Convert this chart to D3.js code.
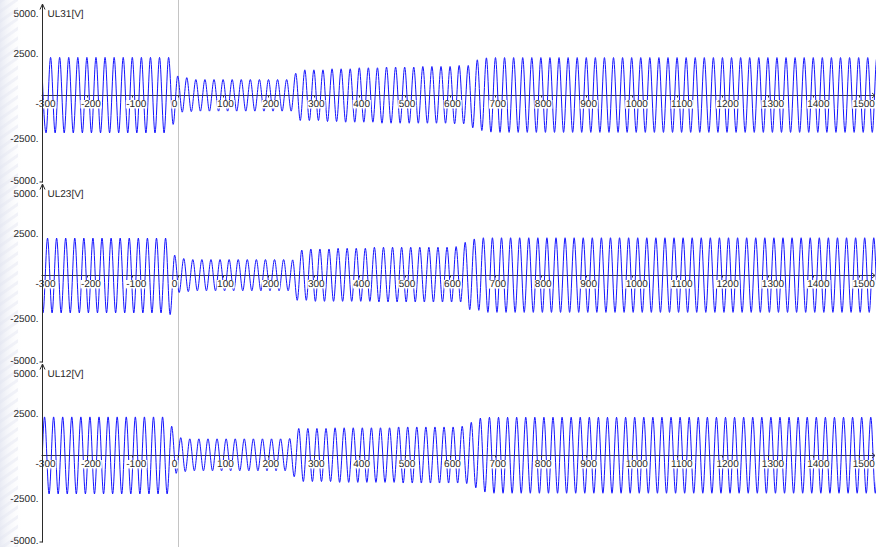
<!DOCTYPE html>
<html>
<head>
<meta charset="utf-8">
<script src="https://cdn.jsdelivr.net/npm/d3@7/dist/d3.min.js"></script>
<style>
  html, body { margin: 0; padding: 0; background: #ffffff; }
  svg { display: block; }
  text {
    font-family: "Liberation Sans", Arial, sans-serif; font-size: 10px; fill: #262626;
    -webkit-font-smoothing: antialiased; text-rendering: geometricPrecision;
  }
</style>
</head>
<body>
<svg id="chart" width="876" height="547"></svg>
<script>
// Line-voltage recordings around a fault at t = 0 ms (50 Hz system).
// Each channel is stored as runs of cycles: [cycles, positive peak (V), negative peak (V)].
const channelNames = ["UL31[V]", "UL23[V]", "UL12[V]"];

// time (ms) of the first positive peak of each channel
const firstPeakTimes = [-300, -306.7, -313.3];

const ul31Peaks = [
  [14, 2240, -2200], [1, 2240, -1700], [1, 1150, -980], [1, 1050, -950],
  [11, 940, -920], [1, 1310, -1470], [2, 1510, -1470], [1, 1510, -1530],
  [1, 1570, -1530], [2, 1570, -1570], [2, 1630, -1570], [1, 1630, -1630],
  [4, 1670, -1630], [3, 1705, -1630], [1, 1705, -1665], [1, 1765, -1665],
  [1, 1765, -1900], [1, 2100, -2060], [1, 2215, -2155], [43, 2230, -2170]
];

const ul23Peaks = [
  [14, 2200, -2200], [1, 2200, -2300], [1, 1200, -1000], [1, 1000, -950],
  [11, 940, -900], [1, 920, -1460], [1, 1500, -1460], [3, 1560, -1520],
  [4, 1600, -1520], [9, 1660, -1560], [1, 1700, -1560], [1, 1950, -2010],
  [1, 2150, -2050], [45, 2220, -2170]
];

const ul12Peaks = [
  [15, 2270, -2260], [1, 1720, -1050], [1, 1050, -950], [11, 980, -900],
  [1, 1000, -1250], [4, 1590, -1530], [7, 1630, -1580], [7, 1680, -1620],
  [1, 1720, -1650], [1, 1950, -1900], [1, 2200, -2150], [44, 2250, -2220]
];

const channelPeaks = [ul31Peaks, ul23Peaks, ul12Peaks];

const xTickValues = [-300, -200, -100, 0, 100, 200, 300, 400, 500, 600, 700,
                     800, 900, 1000, 1100, 1200, 1300, 1400, 1500];
const yTickValues = [5000, 2500, -2500, -5000];

const periodMs = 20;
const timeDomain = [-300, 1536];
const voltDomain = [-5000, 5000];

// ---- layout ----
const W = 876, H = 547;
const plotLeft = 41.5, plotRight = 875;
const panelStep = 180;
const panelTop = 10.5, panelBottom = 180.5;

const svg = d3.select("#chart");

// faint textured strip on the far left
const defs = svg.append("defs");
const grad = defs.append("linearGradient").attr("id", "edgeFade").attr("x1", 0).attr("x2", 1);
grad.append("stop").attr("offset", 0).attr("stop-color", "#e3e6f1").attr("stop-opacity", 0.8);
grad.append("stop").attr("offset", 1).attr("stop-color", "#ffffff").attr("stop-opacity", 0);
const pat = defs.append("pattern").attr("id", "edgeStripes")
  .attr("width", 8).attr("height", 8).attr("patternUnits", "userSpaceOnUse")
  .attr("patternTransform", "rotate(-35)");
pat.append("rect").attr("width", 8).attr("height", 3).attr("fill", "#e8eaf3");
svg.append("rect").attr("x", 0).attr("y", 0).attr("width", 18).attr("height", H)
  .attr("fill", "url(#edgeStripes)").attr("opacity", 0.7);
svg.append("rect").attr("x", 0).attr("y", 0).attr("width", 24).attr("height", H)
  .attr("fill", "url(#edgeFade)");

const x = d3.scaleLinear().domain(timeDomain).range([plotLeft, plotRight]);

// fault instant marker
svg.append("line")
  .attr("x1", Math.round(x(0)) + 0.5).attr("x2", Math.round(x(0)) + 0.5)
  .attr("y1", 0).attr("y2", H)
  .attr("stroke", "#c4c4c4").attr("stroke-width", 1);

function expandPeaks(runs, start) {
  const pts = [];
  let j = 0;
  runs.forEach(([n, hi, lo]) => {
    for (let i = 0; i < n; i++, j++) {
      const t = start + periodMs * j;
      pts.push([t, hi], [t + periodMs / 2, lo]);
    }
  });
  return pts;
}

channelNames.forEach((name, i) => {
  const off = i * panelStep;
  const y = d3.scaleLinear().domain(voltDomain).range([panelBottom + off, panelTop + off]);
  const g = svg.append("g");
  const zeroY = y(0);

  defs.append("clipPath").attr("id", "clip" + i)
    .append("rect")
    .attr("x", plotLeft + 1).attr("y", off)
    .attr("width", plotRight - plotLeft).attr("height", panelStep + 2);

  // x axis through zero
  g.append("line")
    .attr("x1", plotLeft).attr("x2", plotRight)
    .attr("y1", zeroY).attr("y2", zeroY)
    .attr("stroke", "#3a3a3a").attr("stroke-width", 1);

  // waveform
  const line = d3.line()
    .x(d => x(d[0]))
    .y(d => y(d[1]))
    .curve(d3.curveMonotoneX);
  g.append("path")
    .datum(expandPeaks(channelPeaks[i], firstPeakTimes[i]))
    .attr("clip-path", "url(#clip" + i + ")")
    .attr("fill", "none")
    .attr("stroke", "#1414ff")
    .attr("stroke-width", 1)
    .attr("d", line);

  g.selectAll("line.xtick").data(xTickValues).enter().append("line")
    .attr("class", "xtick")
    .attr("x1", d => Math.round(x(d)) + 0.5).attr("x2", d => Math.round(x(d)) + 0.5)
    .attr("y1", zeroY).attr("y2", zeroY + 2)
    .attr("stroke", "#3a3a3a");

  // time labels on white plates
  const tickG = g.selectAll("g.xt").data(xTickValues).enter().append("g").attr("class", "xt");
  tickG.each(function (t) {
    const tg = d3.select(this);
    const label = tg.append("text")
      .attr("x", x(t) - 6).attr("y", zeroY + 11)
      .attr("text-anchor", "start")
      .text(String(t));
    const bb = label.node().getBBox();
    tg.insert("rect", "text")
      .attr("x", bb.x - 0.5).attr("y", bb.y + 1.5)
      .attr("width", bb.width + 1).attr("height", bb.height - 2.5)
      .attr("fill", "#ffffff");
  });

  // small arrow at the right end of the time axis
  g.append("path")
    .attr("d", `M${plotRight - 3},${zeroY - 2.5}L${plotRight},${zeroY}L${plotRight - 3},${zeroY + 2.5}`)
    .attr("fill", "none").attr("stroke", "#3a3a3a");

  // y axis with arrow head
  const ax = plotLeft + 1;
  g.append("line")
    .attr("x1", ax).attr("x2", ax)
    .attr("y1", panelTop + off - 6).attr("y2", panelBottom + off + 2)
    .attr("stroke", "#2b2b2b");
  g.append("path")
    .attr("d", `M${ax - 2.5},${panelTop + off - 1}L${ax},${panelTop + off - 6.5}L${ax + 2.5},${panelTop + off - 1}`)
    .attr("fill", "none").attr("stroke", "#2b2b2b");
  g.append("line")
    .attr("x1", ax - 3).attr("x2", ax)
    .attr("y1", panelBottom + off + 1.5).attr("y2", panelBottom + off + 1.5)
    .attr("stroke", "#2b2b2b");

  g.selectAll("text.yl").data(yTickValues).enter().append("text")
    .attr("class", "yl")
    .attr("x", plotLeft - 3)
    .attr("y", d => y(d) + (d === voltDomain[1] ? 3 : 0))
    .attr("dy", "0.35em")
    .attr("text-anchor", "end")
    .text(d => d + ".");

  g.append("text")
    .attr("x", ax + 5).attr("y", y(voltDomain[1]) + 3)
    .attr("dy", "0.35em")
    .text(name);
});
</script>
</body>
</html>
